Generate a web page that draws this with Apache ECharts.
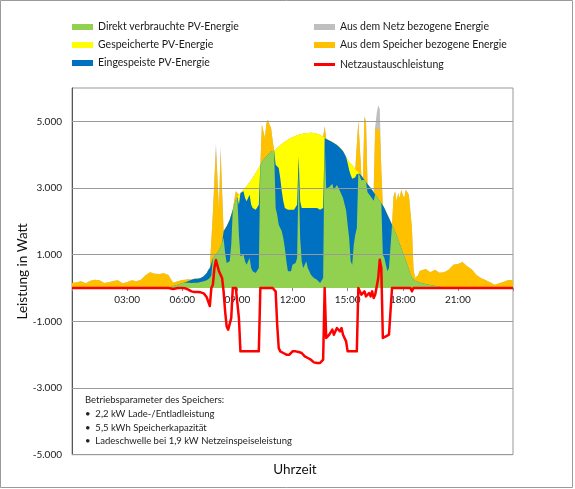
<!DOCTYPE html>
<html><head><meta charset="utf-8">
<script src="https://cdn.jsdelivr.net/npm/echarts@6/dist/echarts.min.js"></script>
<style>html,body{margin:0;padding:0;background:#fff}#c{width:575px;height:489px}</style>
</head><body><div id="c"></div>
<script>
// time of day in minutes (15-min at night, 5-min in daytime)
const times = [
0,15,30,45,60,75,90,105,120,135,150,165,180,195,210,225,240,255,270,285,300,315,330,345,
360,365,370,375,380,385,390,395,400,405,410,415,
420,425,430,435,440,445,450,455,460,465,470,475,
480,485,490,495,500,505,510,515,520,525,530,535,
540,545,550,555,560,565,570,575,580,585,590,595,
600,605,610,615,620,625,630,635,640,645,650,655,
660,665,670,675,680,685,690,695,700,705,710,715,
720,725,730,735,740,745,750,755,760,765,770,775,
780,785,790,795,800,805,810,815,820,825,830,835,
840,845,850,855,860,865,870,875,880,885,890,895,
900,905,910,915,920,925,930,935,940,945,950,955,
960,965,970,975,980,985,990,995,1000,1005,1010,1015,
1020,1025,1030,1035,1040,1045,1050,1055,1060,1065,1070,1075,
1080,1085,1090,1095,1100,1105,1110,1115,1120,1125,1130,1135,
1140,1155,1170,1185,1200,1215,1230,1245,1260,1275,1290,1305,1320,1335,1350,1365,1380,1395,1410,1425,1440];

// Direkt verbrauchte PV-Energie (W)
const direkt = [
0,0,0,0,0,0,0,0,0,0,0,0,0,0,0,0,0,0,0,0,0,10,60,100,
150,150,160,160,160,160,150,150,160,160,160,170,
180,190,200,210,230,260,300,380,900,950,1000,1050,
1150,1250,1360,1500,1050,750,750,800,1300,2350,2500,2650,
2740,1600,950,900,1000,800,700,750,900,600,500,450,
450,500,600,3690,3770,3840,3900,3950,4000,4050,4100,4140,
4120,2400,2200,1900,1800,1700,1500,1200,800,500,450,500,
700,650,750,900,3500,1500,800,600,700,800,600,500,
400,350,300,300,250,200,150,200,300,4500,2980,3000,
3030,3050,3130,2950,2970,3090,3110,2910,2960,2700,2670,2330,
1900,1500,800,700,1300,1600,1800,3470,3430,3230,3210,3250,
3180,2870,2860,2750,2790,2620,2810,2750,2680,2620,2550,1000,
900,700,500,600,600,1900,1800,1690,1580,1460,1330,1210,
1080,950,830,700,560,430,300,250,220,200,180,160,
150,120,90,70,40,20,0,0,0,0,0,0,0,0,0,0,0,0,0,0,0];

// Eingespeiste PV-Energie (W)
const eingespeist = [
0,0,0,0,0,0,0,0,0,0,0,0,0,0,0,0,0,0,0,0,0,0,0,0,
0,0,10,30,50,70,100,110,120,110,120,130,
120,130,150,170,220,280,300,230,0,0,0,0,
0,0,0,200,700,1100,1200,1250,900,0,0,0,
0,900,1900,1900,1900,1900,1900,1900,1900,1900,1900,1900,
1900,1900,1900,0,0,0,0,0,0,0,0,0,
0,1300,1500,1700,1500,1200,1100,1200,1550,1850,1900,1850,
1650,1700,1600,1600,450,1100,1600,1750,1700,1600,1800,1900,
2000,2050,2100,2100,2150,2200,2200,2150,2100,0,1500,1450,
1400,1350,1250,1400,1350,1200,1150,1300,1200,1400,1350,1600,
1850,2040,2590,2580,1980,1720,1620,0,0,150,100,0,
0,250,200,250,150,250,0,0,0,0,0,1480,
1500,1600,1700,1500,1400,0,0,0,0,0,0,0,
0,0,0,0,0,0,0,0,0,0,0,0,
0,0,0,0,0,0,0,0,0,0,0,0,0,0,0,0,0,0,0,0,0];

// Gespeicherte PV-Energie (W)
const gespeichert = [
0,0,0,0,0,0,0,0,0,0,0,0,0,0,0,0,0,0,0,0,0,0,0,0,
0,0,0,0,0,0,0,0,0,0,0,0,
0,0,0,0,0,0,0,0,0,0,0,0,
0,0,0,0,0,0,0,0,0,0,0,0,
0,300,0,100,50,290,450,450,370,740,910,1030,
1100,1130,1110,0,0,0,0,0,0,0,0,0,
0,460,500,640,980,1420,1760,1990,2070,2100,2130,2150,
2170,2190,2210,2080,650,2010,2220,2280,2240,2250,2250,2260,
2260,2250,2250,2240,2230,2210,2240,2210,2130,0,0,0,
0,0,0,0,0,0,0,0,0,0,0,0,
100,250,350,400,350,250,100,0,0,0,0,0,
0,0,0,0,0,0,0,0,0,0,0,0,
0,0,0,0,0,0,0,0,0,0,0,0,
0,0,0,0,0,0,0,0,0,0,0,0,
0,0,0,0,0,0,0,0,0,0,0,0,0,0,0,0,0,0,0,0,0];

// Aus dem Speicher bezogene Energie (W)
const ausSpeicher = [
150,170,200,140,220,250,230,150,170,210,230,140,170,230,200,250,380,470,430,420,440,380,100,100,
90,80,80,70,50,30,0,0,0,0,0,0,
0,0,0,0,0,0,0,0,1350,1300,3150,3100,
1200,2850,2700,0,0,0,0,0,0,0,150,250,
150,0,0,0,0,0,0,0,0,0,0,0,
0,0,0,0,1130,1010,600,1000,1050,850,700,300,
0,0,0,0,0,0,0,0,0,0,0,0,
0,0,0,0,0,0,0,0,0,0,0,0,
0,0,0,0,0,0,0,0,0,350,0,0,
0,0,0,0,0,0,0,0,0,0,0,0,
0,0,0,0,0,0,0,1550,1600,0,0,1900,
1800,0,0,0,0,0,2020,2000,2100,2150,1000,0,
0,0,0,0,0,0,950,1210,1020,1390,1370,1740,
1720,1750,2120,2200,2240,2320,1500,350,80,100,200,350,
400,450,380,480,420,450,550,700,720,780,650,560,400,300,240,170,100,140,190,240,230];

// Aus dem Netz bezogene Energie (W)
const ausNetz = [
0,0,0,0,0,0,0,0,0,0,0,0,0,0,0,0,0,0,0,0,0,0,0,0,
0,0,0,0,0,0,0,0,0,0,0,0,
0,0,0,0,0,0,0,0,0,0,200,200,
0,150,150,0,0,0,0,0,0,0,0,0,
0,0,0,0,0,0,0,0,0,0,0,0,
0,0,0,0,0,0,0,0,0,0,0,0,
0,0,0,0,0,0,0,0,0,0,0,0,
0,0,0,0,0,0,0,0,0,0,0,0,
0,0,0,0,0,0,0,0,0,0,0,0,
0,0,0,0,0,0,0,0,0,0,0,0,
0,0,0,0,0,0,0,0,0,0,0,0,
0,0,0,0,0,0,0,500,700,600,0,0,
0,0,0,0,0,0,0,0,0,0,0,0,
0,0,0,0,0,0,0,0,0,0,0,0,
0,0,0,0,0,0,0,0,0,0,0,0,0,0,0,0,0,0,0,0,0];

// Netzaustauschleistung (W)
const netz = [
0,0,0,0,0,0,0,0,0,0,0,0,0,0,0,0,0,0,0,0,0,0,-30,0,
0,0,-10,-30,-50,-70,-100,-110,-120,-110,-120,-130,
-130,-150,-160,-200,-280,-330,-540,0,100,600,840,840,
500,490,300,-100,-700,-1150,-1250,-1260,-900,0,0,0,
0,-900,-1900,-1900,-1900,-1900,-1900,-1900,-1900,-1900,-1900,-1900,
-1900,-1900,-1900,0,0,0,0,0,0,0,0,0,
0,-100,-1100,-1800,-1900,-1900,-1950,-1950,-2000,-2040,-2000,-1950,
-1900,-1900,-1900,-1920,-1920,-1920,-1950,-2000,-2050,-2100,-2100,-2150,
-2150,-2200,-2230,-2220,-2250,-2260,-2250,-2220,-2150,0,-1500,-1450,
-1400,-1350,-1250,-1400,-1350,-1200,-1150,-1300,-1200,-1400,-1350,-1600,
-1900,-1900,-1900,-1900,-1900,-1900,-1900,0,-50,-200,-150,-100,
-250,-300,-150,-250,-100,-300,-200,-200,300,850,600,-1500,
-1550,-1450,-1450,-1400,-1400,0,0,0,0,0,0,0,
0,0,0,0,0,0,-100,0,0,0,0,0,
0,0,0,0,0,0,0,0,0,0,0,0,0,0,0,0,0,0,0,0,0];

const yLabelValues = [-5000,-3000,-1000,1000,3000,5000];
const legendNames = ['Direkt verbrauchte PV-Energie','Gespeicherte PV-Energie','Eingespeiste PV-Energie',
  'Aus dem Netz bezogene Energie','Aus dem Speicher bezogene Energie','Netzaustauschleistung'];
const noteLines = ['Betriebsparameter des Speichers:','\u2022  2,2 kW Lade-/Entladleistung','\u2022  5,5 kWh Speicherkapazit\u00e4t','\u2022  Ladeschwelle bei 1,9 kW Netzeinspeiseleistung'];

const FONT = 'Lato, "Open Sans", sans-serif';
const C = {green:'#92D050', blue:'#0070C0', yellow:'#FFFF00', orange:'#FFC000', gray:'#BFBFBF', red:'#FF0000'};
function fmtDE(v){ const s=String(Math.abs(v)).replace(/\B(?=(\d{3})+(?!\d))/g,'.'); return (v<0?'-':'')+s; }

// stack order (bottom -> top); cumulative tops computed here, drawn top layer first
const stackOrder = [
  {name:legendNames[0], arr:direkt, color:C.green},
  {name:legendNames[2], arr:eingespeist, color:C.blue},
  {name:legendNames[1], arr:gespeichert, color:C.yellow},
  {name:legendNames[4], arr:ausSpeicher, color:C.orange},
  {name:legendNames[3], arr:ausNetz, color:C.gray}
];
const running = times.map(()=>0);
const layers = stackOrder.map(s=>{
  const data = times.map((t,i)=>{ running[i] += s.arr[i]; return [t, running[i]]; });
  return {name:s.name, color:s.color, data};
});

const areaSeries = layers.slice().reverse().map(l=>({
  name:l.name, type:'line', data:l.data, color:l.color,
  showSymbol:false, symbol:'none', sampling:false, smooth:false,
  lineStyle:{width:0, color:l.color}, itemStyle:{color:l.color},
  areaStyle:{color:l.color, opacity:1, origin:'auto'}, emphasis:{disabled:true}, silent:true
}));

const chart = echarts.init(document.getElementById('c'), null, {renderer:'canvas'});

function leg(name, left, top, h){
  return {show:true, left, top, padding:0, itemWidth:21, itemHeight:h||6, icon:'rect', selectedMode:false,
    data:[name], textStyle:{fontSize:10.5, fontFamily:FONT, color:'#1a1a1a', lineHeight:14}, itemStyle:{borderWidth:0}};
}

const graphics = [
  {type:'rect', shape:{x:0.5,y:0.5,width:572,height:487}, style:{fill:'none', stroke:'#9a9a9a', lineWidth:1}, silent:true},
  {type:'text', x:295, y:470, style:{text:'Uhrzeit', fontSize:13.5, fontFamily:FONT, fill:'#111', align:'center', verticalAlign:'middle'}}
];
const noteY = [400, 414, 427.5, 441];
noteLines.forEach((t,i)=>graphics.push({type:'text', x:85, y:noteY[i],
  style:{text:t, fontSize:9.5, fontFamily:FONT, fill:'#222', align:'left', verticalAlign:'middle'}}));

const gridTop = 88, gridBottom = 34.3, H = 489 - gridTop - gridBottom;
const yMin = -5000, yMax = 6000;

const option = {
  animation:false,
  backgroundColor:'#ffffff',
  grid:{left:72, right:62, top:gridTop, bottom:gridBottom, show:true, borderColor:'#999', borderWidth:1, backgroundColor:'transparent'},
  legend:[
    leg(legendNames[0],72,20), leg(legendNames[1],72,38), leg(legendNames[2],72,56),
    leg(legendNames[3],314,20), leg(legendNames[4],314,38), leg(legendNames[5],314,57.5,3)
  ],
  xAxis:{type:'value', min:0, max:1440, interval:180, position:'bottom',
    offset: -H * (0 - yMin) / (yMax - yMin),
    axisLine:{show:false, onZero:false},
    axisTick:{show:true, length:3, lineStyle:{color:'#888'}},
    splitLine:{show:false},
    axisLabel:{fontSize:10, fontFamily:FONT, color:'#1a1a1a', margin:7,
      formatter:function(v){ if(v<=0||v>=1440) return ''; const h=Math.round(v/60); return (h<10?'0':'')+h+':00'; }}
  },
  yAxis:{type:'value', min:yMin, max:yMax, interval:1000,
    axisLine:{show:true, onZero:false, lineStyle:{color:'#555'}},
    axisTick:{show:false}, splitLine:{show:false},
    axisLabel:{fontSize:10, fontFamily:FONT, color:'#1a1a1a', margin:10,
      formatter:function(v){ return yLabelValues.indexOf(v)>=0 ? fmtDE(v) : ''; }},
    name:'Leistung in Watt', nameLocation:'middle', nameGap:42, nameMoveOverlap:false,
    nameTextStyle:{fontSize:13.5, fontFamily:FONT, color:'#111'}
  },
  graphic:graphics,
  series: areaSeries.concat([
    {name:legendNames[5], type:'line', data:times.map((t,i)=>[t, netz[i]]), color:C.red, z:5,
      showSymbol:false, symbol:'none', sampling:false, silent:true,
      lineStyle:{width:2.5, color:C.red, join:'round'}, itemStyle:{color:C.red}, emphasis:{disabled:true},
      markLine:{silent:true, symbol:['none','none'], label:{show:false}, animation:false,
        lineStyle:{color:'#9a9a9a', width:1, type:'solid'}, emphasis:{disabled:true},
        data:yLabelValues.map(v=>({yAxis:v}))}
    }
  ])
};
chart.setOption(option);
</script></body></html>
